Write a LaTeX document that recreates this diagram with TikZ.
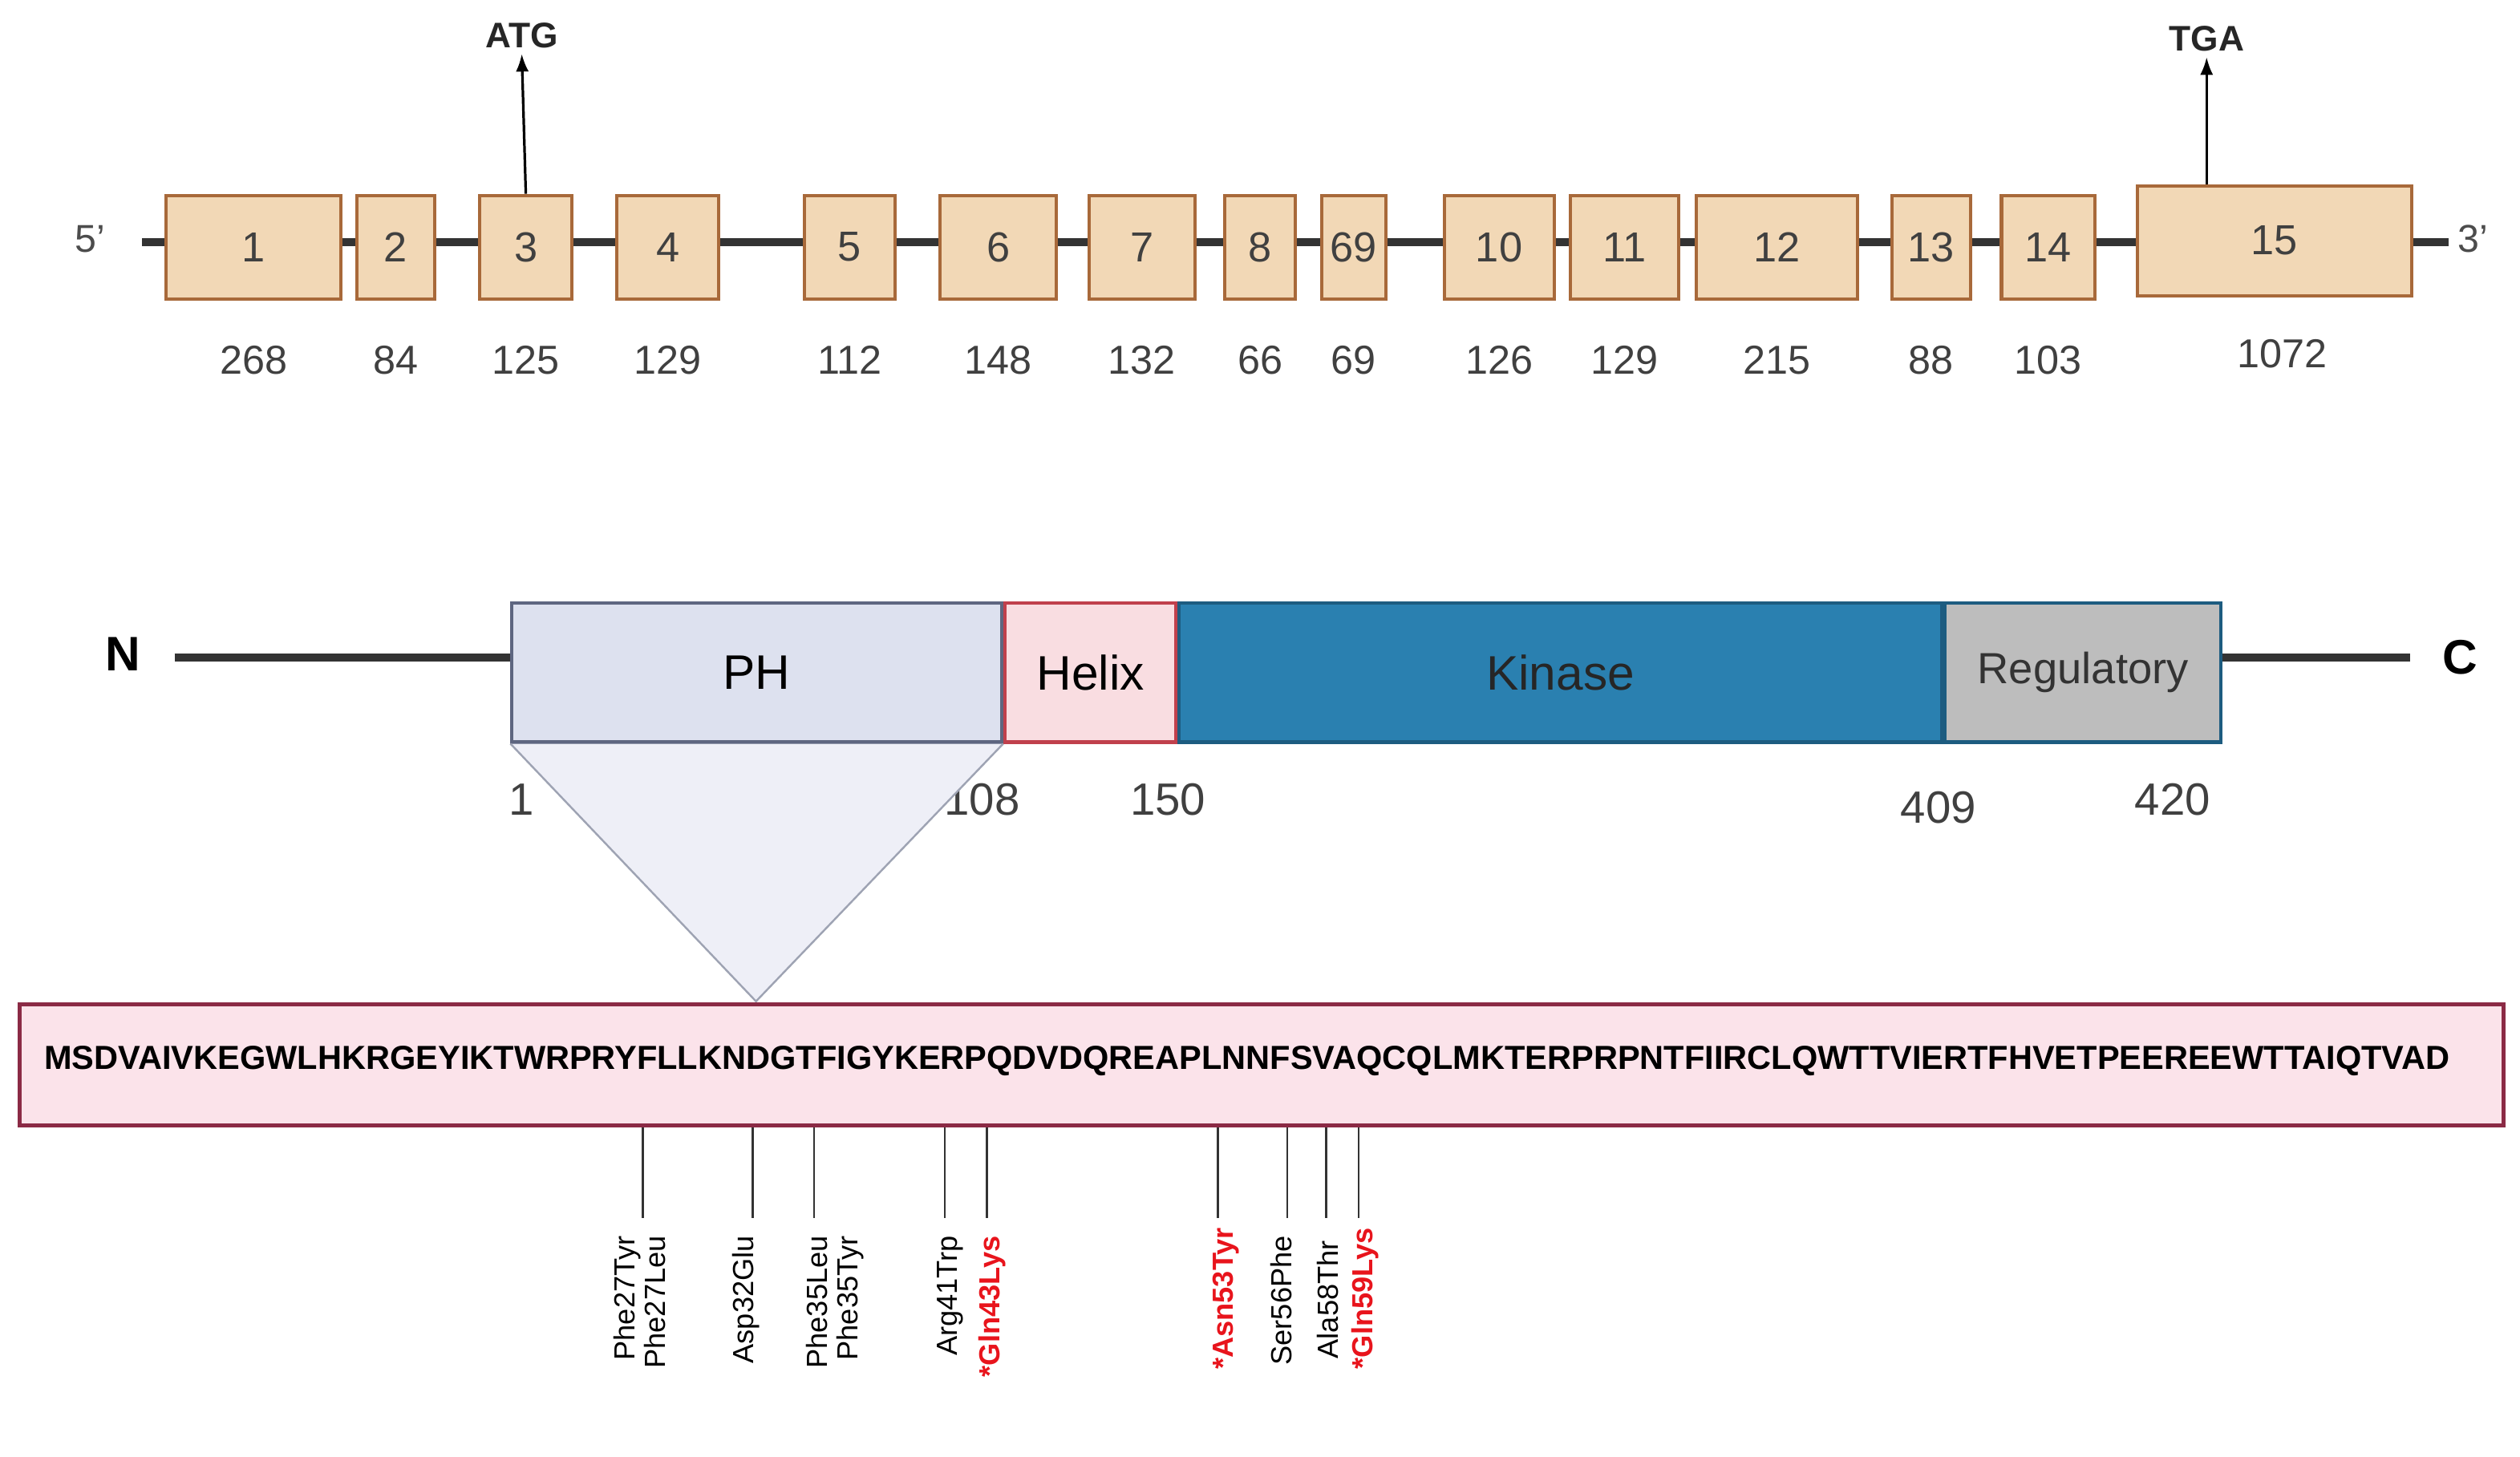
\documentclass[tikz,border=0pt]{standalone}
\usepackage{fontspec}
\setmainfont{Liberation Sans}
\usetikzlibrary{arrows.meta}
\definecolor{exfill}{HTML}{F2D8B6}
\definecolor{exdraw}{HTML}{A8693A}
\definecolor{phfill}{HTML}{DDE1EF}
\definecolor{phdraw}{HTML}{5E6680}
\definecolor{hxfill}{HTML}{F9DDE1}
\definecolor{hxdraw}{HTML}{C0404C}
\definecolor{kfill}{HTML}{2A80B0}
\definecolor{kdraw}{HTML}{1D5C80}
\definecolor{rfill}{HTML}{BDBDBD}
\definecolor{sqfill}{HTML}{FBE3EA}
\definecolor{sqdraw}{HTML}{8B2A45}
\definecolor{trfill}{HTML}{EEEFF7}
\definecolor{mred}{HTML}{E8141C}
\begin{document}
\begin{tikzpicture}[x=1pt,y=-1pt,
 exon/.style={draw=exdraw,fill=exfill,line width=2pt,inner sep=0pt,minimum height=64pt,font=\fontsize{26}{28}\selectfont,text=black!75},
 num/.style={font=\fontsize{25}{27}\selectfont,text=black!75},
 dom/.style={line width=2pt,inner sep=0pt,minimum height=86pt,font=\fontsize{30}{32}\selectfont},
 mut/.style={rotate=90,anchor=east,align=right,font=\fontsize{18}{19}\selectfont,inner sep=0pt},
 redm/.style={text=mred,font=\fontsize{18}{19}\selectfont\bfseries},
 bk/.style={line width=5pt,black!80}]
\useasboundingbox (0,0) rectangle (1560,902);
% gene
\coordinate (g1) at (88,150); \coordinate (g2) at (1516,150);
\draw[bk] (g1) -- (g2);
\node[font=\fontsize{24}{26}\selectfont,text=black!70] (p5) at (56,148) {5'};
\node[font=\fontsize{24}{26}\selectfont,text=black!70] (p3) at (1531,148) {3'};
\foreach \n/\a/\b/\l/\t in {1/103/211/268/1,2/221/269/84/2,3/297/354/125/3,4/382/445/129/4,5/498/554/112/5,6/582/654/148/6,7/674/740/132/7,8/758/802/66/8,9/818/858/69/69,10/894/962/126/10,11/972/1039/129/11,12/1050/1150/215/12,13/1171/1220/88/13,14/1239/1297/103/14}{
 \node[exon,minimum width={\b-\a}] (e\n) at ({(\a+\b)/2},153) {\t};
 \node[num] (l\n) at ({(\a+\b)/2+0},223) {\l};
}
\node[exon,minimum width=170,minimum height=68pt] (e15) at (1408,149) {15};
\node[num] (l15) at (1413,219) {1072};
\node[font=\fontsize{22}{24}\selectfont\bfseries,text=black!85] (atg) at (323,22) {ATG};
\node[font=\fontsize{22}{24}\selectfont\bfseries,text=black!85] (tga) at (1366,24) {TGA};
\draw[line width=1.6pt,-{Latex[length=11pt,width=8pt]}] (e3.north) -- (atg.south);
\draw[line width=1.6pt,-{Latex[length=11pt,width=8pt]}] (e15.north-|tga) -- (tga.south);
% protein
\coordinate (q1) at (108,407); \coordinate (q2) at (1492,407);
\draw[bk] (q1) -- (q2);
\node[font=\fontsize{30}{32}\selectfont\bfseries] (N) at (76,405) {N};
\node[font=\fontsize{30}{32}\selectfont\bfseries] (C) at (1523,407) {C};
\node[dom,draw=phdraw,fill=phfill,minimum width=303pt] (ph) at (468.5,416.5) {PH};
\node[dom,draw=hxdraw,fill=hxfill,minimum width=106pt] (hx) at (675,416.5) {Helix};
\node[dom,draw=kdraw,fill=kfill,minimum width=472pt,text=black!85] (ki) at (966,416.5) {Kinase};
\node[dom,draw=kdraw,fill=rfill,minimum width=171pt,font=\fontsize{27}{29}\selectfont,text=black!80] (rg) at (1289.5,416.5) {Regulatory};
\foreach \x/\y/\t in {323/495/1,608/495/108,723/495/150,1200/500/409,1345/495/420}
 \node[num,font=\fontsize{28}{30}\selectfont] at (\x,\y) {\t};
% triangle
\coordinate (tip) at (468,620);
\filldraw[fill=trfill,draw=phdraw!60,line width=1.2pt] (ph.south west) -- (tip) -- (ph.south east);
% sequence
\node[draw=sqdraw,fill=sqfill,line width=2.5pt,minimum width=1538pt,minimum height=75pt,inner sep=0pt] (seq) at (781,659.5) {};
\node (seqt) at (772,657) {\resizebox{1489pt}{!}{\bfseries MSDVAIVKEGWLHKRGEYIKTWRPRYFLLKNDGTFIGYKERPQDVDQREAPLNNFSVAQCQLMKTERPRPNTFIIRCLQWTTVIERTFHVETPEEREEWTTAIQTVAD}};
% mutations
\foreach \i/\x in {1/398,2/466,3/504,4/585,5/611,6/754,7/797,8/821,9/841}{
 \coordinate (m\i) at (\x,754);
 \draw[line width=1.2pt,black!80] (seq.south-|m\i) -- (m\i);
}
\node[mut] (t1) at (396,765) {Phe27Tyr\\Phe27Leu};
\node[mut] (t2) at (462,765) {Asp32Glu};
\node[mut] (t3) at (517,765) {Phe35Leu\\Phe35Tyr};
\node[mut] (t4) at (588,765) {Arg41Trp};
\node[mut,redm] (t5) at (614,765) {*Gln43Lys};
\node[mut,redm] (t6) at (759,760) {*Asn53Tyr};
\node[mut] (t7) at (793,765) {Ser56Phe};
\node[mut] (t8) at (822,768) {Ala58Thr};
\node[mut,redm] (t9) at (845,760) {*Gln59Lys};
\end{tikzpicture}
\end{document}
